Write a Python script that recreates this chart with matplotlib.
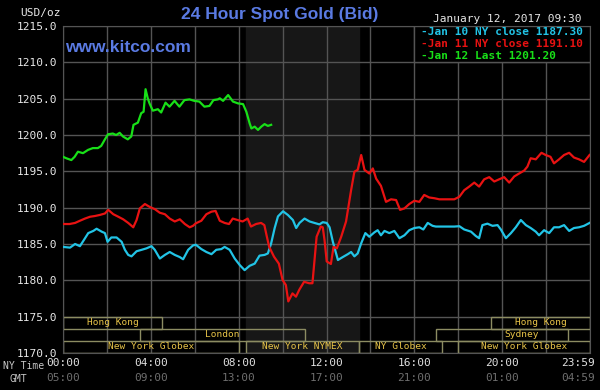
import matplotlib
matplotlib.use('Agg')
import matplotlib.pyplot as plt
from matplotlib.patches import Rectangle

## data, hours since 00:00 NY time
jan10_hours = [0.00, 0.32, 0.55, 0.77, 0.92, 1.15, 1.38, 1.53, 1.76, 1.91, 2.03, 2.20, 2.44, 2.67, 2.82,
               2.97, 3.12, 3.35, 3.58, 3.80, 4.03, 4.18, 4.41, 4.64, 4.86, 5.09, 5.32, 5.47, 5.70, 5.92,
               6.05, 6.30, 6.53, 6.76, 6.98, 7.21, 7.36, 7.59, 7.82, 8.05, 8.27, 8.50, 8.73, 8.95, 9.18,
               9.33, 9.48, 9.64, 9.79, 10.02, 10.24, 10.47, 10.62, 10.77, 11.00, 11.23, 11.45, 11.68, 11.83,
               12.01, 12.14, 12.29, 12.52, 12.74, 12.97, 13.12, 13.27, 13.42, 13.58, 13.77, 13.95, 14.18,
               14.33, 14.48, 14.64, 14.86, 15.09, 15.32, 15.55, 15.77, 16.00, 16.23, 16.41, 16.61, 16.83,
               16.98, 17.82, 18.05, 18.27, 18.58, 18.80, 18.95, 19.10, 19.33, 19.56, 19.79, 19.94, 20.17,
               20.40, 20.62, 20.85, 21.08, 21.30, 21.53, 21.68, 21.91, 22.14, 22.36, 22.59, 22.82, 23.05,
               23.27, 23.50, 23.73, 23.98]
jan10_prices = [1184.6, 1184.5, 1185.0, 1184.7, 1185.4, 1186.5, 1186.8, 1187.1, 1186.7, 1186.5, 1185.3, 1185.9,
                1185.9, 1185.3, 1184.2, 1183.5, 1183.3, 1184.0, 1184.2, 1184.4, 1184.7, 1184.2, 1183.0, 1183.5,
                1183.9, 1183.5, 1183.2, 1182.9, 1184.2, 1184.8, 1184.9, 1184.3, 1183.9, 1183.6, 1184.2, 1184.3,
                1184.6, 1184.2, 1183.0, 1182.1, 1181.4, 1182.0, 1182.3, 1183.4, 1183.5, 1183.7, 1185.1, 1187.2,
                1188.8, 1189.5, 1189.0, 1188.3, 1187.2, 1187.9, 1188.5, 1188.1, 1187.9, 1187.7, 1188.0, 1187.9,
                1187.3, 1185.3, 1182.8, 1183.2, 1183.6, 1183.9, 1183.3, 1183.7, 1185.1, 1186.5, 1186.0, 1186.6,
                1186.9, 1186.2, 1186.8, 1186.5, 1186.8, 1185.8, 1186.2, 1186.9, 1187.2, 1187.3, 1187.0, 1187.9,
                1187.5, 1187.4, 1187.4, 1187.45, 1187.0, 1186.7, 1186.1, 1185.8, 1187.6, 1187.8, 1187.5, 1187.6,
                1187.0, 1185.8, 1186.5, 1187.3, 1188.3, 1187.6, 1187.2, 1186.7, 1186.2, 1186.9, 1186.5, 1187.3,
                1187.3, 1187.6, 1186.8, 1187.2, 1187.3, 1187.5, 1187.9]

jan11_hours = [0.00, 0.30, 0.55, 0.77, 1.00, 1.23, 1.45, 1.68, 1.91, 2.06, 2.29, 2.52, 2.74, 2.97, 3.20,
               3.35, 3.50, 3.73, 3.95, 4.18, 4.41, 4.64, 4.86, 5.09, 5.32, 5.55, 5.77, 5.92, 6.05, 6.30,
               6.53, 6.76, 6.95, 7.14, 7.36, 7.56, 7.73, 7.95, 8.18, 8.41, 8.56, 8.79, 9.02, 9.17, 9.27,
               9.39, 9.61, 9.83, 10.00, 10.15, 10.26, 10.45, 10.61, 10.76, 10.98, 11.21, 11.36, 11.44, 11.55,
               11.74, 11.83, 11.91, 12.01, 12.20, 12.32, 12.47, 12.67, 12.89, 13.12, 13.27, 13.42, 13.58,
               13.73, 13.95, 14.11, 14.26, 14.48, 14.71, 14.94, 15.17, 15.35, 15.55, 15.77, 16.00, 16.23,
               16.45, 16.68, 16.91, 17.14, 17.82, 18.05, 18.27, 18.50, 18.73, 18.95, 19.18, 19.41, 19.64,
               19.86, 20.09, 20.32, 20.55, 20.77, 21.00, 21.15, 21.30, 21.53, 21.79, 21.98, 22.20, 22.36,
               22.59, 22.82, 23.05, 23.27, 23.50, 23.73, 23.98]
jan11_prices = [1187.75, 1187.75, 1187.9, 1188.2, 1188.5, 1188.75, 1188.85, 1189.0, 1189.2, 1189.7, 1189.1,
                1188.75, 1188.4, 1187.9, 1187.3, 1188.3, 1189.9, 1190.5, 1190.1, 1189.8, 1189.3, 1189.1,
                1188.5, 1188.1, 1188.4, 1187.75, 1187.3, 1187.5, 1187.85, 1188.2, 1189.1, 1189.45, 1189.55,
                1188.2, 1187.9, 1187.75, 1188.5, 1188.3, 1188.1, 1188.5, 1187.4, 1187.75, 1187.9, 1187.6,
                1186.2, 1184.6, 1183.25, 1182.3, 1180.05, 1179.35, 1177.1, 1178.2, 1177.75, 1178.7, 1179.8,
                1179.6, 1179.6, 1182.3, 1186.0, 1187.4, 1187.3, 1185.55, 1182.6, 1182.25, 1184.6, 1184.4,
                1186.0, 1188.1, 1192.4, 1194.95, 1195.2, 1197.25, 1195.2, 1194.7, 1195.4, 1194.0, 1193.0,
                1190.8, 1191.15, 1191.05, 1189.7, 1189.9, 1190.5, 1190.95, 1190.8, 1191.75, 1191.4, 1191.3,
                1191.15, 1191.15, 1191.5, 1192.4, 1192.9, 1193.45, 1192.9, 1193.9, 1194.2, 1193.6, 1193.9,
                1194.2, 1193.45, 1194.3, 1194.7, 1195.1, 1195.65, 1196.8, 1196.65, 1197.55, 1197.25, 1197.0,
                1196.1, 1196.65, 1197.25, 1197.55, 1196.9, 1196.65, 1196.3, 1197.25]

jan12_hours = [0.00, 0.15, 0.38, 0.53, 0.68, 0.91, 1.14, 1.36, 1.59, 1.74, 1.89, 2.05, 2.27, 2.42, 2.58,
               2.73, 2.95, 3.11, 3.21, 3.41, 3.56, 3.67, 3.76, 3.86, 3.94, 4.09, 4.32, 4.47, 4.67, 4.85,
               5.08, 5.30, 5.53, 5.76, 5.98, 6.21, 6.44, 6.67, 6.85, 7.05, 7.14, 7.29, 7.52, 7.74, 7.97,
               8.20, 8.35, 8.50, 8.58, 8.73, 8.88, 9.03, 9.18, 9.33, 9.48]
jan12_prices = [1197.0, 1196.8, 1196.55, 1197.0, 1197.7, 1197.5, 1197.95, 1198.2, 1198.2, 1198.5, 1199.3,
                1200.1, 1200.2, 1200.0, 1200.3, 1199.8, 1199.4, 1199.8, 1201.4, 1201.7, 1203.0, 1203.2,
                1206.3, 1205.05, 1204.35, 1203.35, 1203.55, 1203.1, 1204.45, 1203.9, 1204.7, 1203.9, 1204.8,
                1204.9, 1204.7, 1204.6, 1203.9, 1204.0, 1204.8, 1204.9, 1205.05, 1204.7, 1205.5, 1204.6,
                1204.35, 1204.25, 1203.2, 1201.6, 1200.9, 1201.15, 1200.7, 1201.15, 1201.5, 1201.25, 1201.4]

legend_labels = ['Jan 10 NY close 1187.30', 'Jan 11 NY close 1191.10', 'Jan 12 Last 1201.20']

ny_tick_hours = [0, 4, 8, 12, 16, 20, 23.98]
ny_tick_labels = ['00:00', '04:00', '08:00', '12:00', '16:00', '20:00', '23:59']
gmt_tick_labels = ['05:00', '09:00', '13:00', '17:00', '21:00', '01:00', '04:59']

# trading sessions: name, start hour, end hour, row (0 = top)
session_names = ['Hong Kong', 'Hong Kong', 'London', 'Sydney', 'New York Globex',
                 'New York NYMEX', 'NY Globex', 'New York Globex']
session_start = [0, 19.5, 3.5, 17.0, 0, 8.33, 13.5, 18.0]
session_end = [4.5, 24, 11.0, 23.0, 8.0, 13.5, 17.25, 24]
session_row = [0, 0, 1, 1, 2, 2, 2, 2]

nymex_open = 8.33
nymex_close = 13.5

MONO = 'DejaVu Sans Mono'
BLUE = '#5a7ae2'
GRID = '#545454'
LINE_COLORS = ['#22c4e6', '#e81212', '#18e018']


def main():
    fig = plt.figure(figsize=(6, 3.9), dpi=100, facecolor='black')
    ax = fig.add_axes([63/600, 1-353/390, 527/600, 327/390], facecolor='black')

    ax.set_xlim(0, 24)
    ax.set_ylim(1170, 1215)

    ax.axvspan(nymex_open, nymex_close, color='#171717', zorder=0)

    for v in range(1170, 1216, 5):
        ax.axhline(v, color=GRID, lw=1, zorder=1)
    for h in range(0, 25, 2):
        ax.axvline(h, color=GRID, lw=1, zorder=1)

    for spine in ax.spines.values():
        spine.set_color(GRID)

    ax.plot(jan10_hours, jan10_prices, color=LINE_COLORS[0], lw=1.6, zorder=3)
    ax.plot(jan11_hours, jan11_prices, color=LINE_COLORS[1], lw=1.6, zorder=3)
    ax.plot(jan12_hours, jan12_prices, color=LINE_COLORS[2], lw=1.6, zorder=3)

    # y labels
    ax.set_yticks(range(1170, 1216, 5))
    ax.set_yticklabels(['%.1f' % v for v in range(1170, 1216, 5)], family=MONO, fontsize=8, color='#e8e8e8')
    ax.tick_params(axis='y', length=0, pad=4)
    ax.set_xticks([])

    # x labels, two rows
    trans = ax.get_xaxis_transform()
    for h, ny, gmt in zip(ny_tick_hours, ny_tick_labels, gmt_tick_labels):
        x = h if h < 23 else 23.45
        ax.text(x, -0.031, ny, transform=trans, ha='center', va='center', family=MONO,
                fontsize=8, color='#e0e0e0', clip_on=False)
        ax.text(x, -0.076, gmt, transform=trans, ha='center', va='center', family=MONO,
                fontsize=8, color='#6e6e6e', clip_on=False)
    fig.text(3/600, 1-366/390, 'NY Time', family=MONO, fontsize=7, color='#c8c8c8', va='center')
    fig.text(10/600, 1-379/390, 'GMT', family=MONO, fontsize=7, color='#c8c8c8', va='center')

    # session boxes
    row_h = 5/3.
    for name, s, e, r in zip(session_names, session_start, session_end, session_row):
        top = 1175 - r*row_h
        ax.add_patch(Rectangle((s, top-row_h), e-s, row_h, fill=False, edgecolor='#8c8c62',
                               lw=1, zorder=2))
        cx = (s+e)/2. if name != 'Sydney' else 20.9
        ax.text(cx, top-row_h/2., name, ha='center', va='center', family=MONO, fontsize=6.8,
                color='#e8c448', zorder=4)

    # legend box
    ax.add_patch(Rectangle((0.666, 0.89), 0.334, 0.11, transform=ax.transAxes, facecolor='black',
                           edgecolor=GRID, lw=1, zorder=5))
    for i, lab in enumerate(legend_labels):
        ax.text((421-63)/527., 1-(6+12*i)/327., '-' + lab, transform=ax.transAxes, ha='left',
                va='center', family=MONO, fontsize=8, fontweight='bold', color=LINE_COLORS[i], zorder=6)

    fig.text(280/600, 1-15/390, '24 Hour Spot Gold (Bid)', ha='center', va='center',
             family='Liberation Sans', fontweight='bold', fontsize=12.5, color=BLUE)
    ax.text(65/600, 1-47/390, 'www.kitco.com', transform=fig.transFigure, ha='left', va='center',
            family='Liberation Sans', fontweight='bold', fontsize=12.5, color=BLUE, zorder=6)
    fig.text(433/600, 1-19/390, 'January 12, 2017 09:30', ha='left', va='center', family=MONO,
             fontsize=8, color='#e8e8e8')
    fig.text(20/600, 1-13/390, 'USD/oz', ha='left', va='center', family=MONO, fontsize=8, color='#e8e8e8')

    fig.savefig('out.png', dpi=100, facecolor='black')


if __name__ == '__main__':
    main()
